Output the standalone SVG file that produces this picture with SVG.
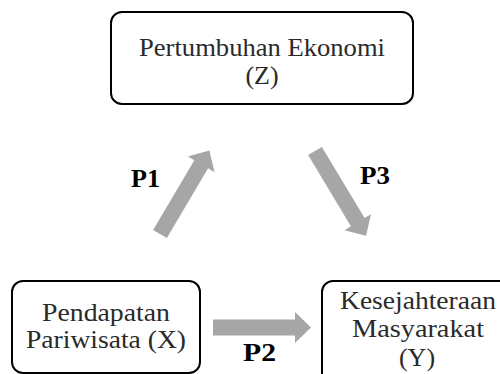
<svg xmlns="http://www.w3.org/2000/svg" width="500" height="374" viewBox="0 0 500 374">
<style>
.box{fill:#fff;stroke:#000;stroke-width:2}
.t{font-family:'Liberation Serif','Times New Roman','DejaVu Serif',serif;font-size:26px;fill:#2a2a2a;text-anchor:middle}
.p{font-family:'Liberation Serif','Times New Roman','DejaVu Serif',serif;font-size:25px;font-weight:bold;fill:#000}
.arr{fill:#a6a6a6}
</style>
<rect width="500" height="374" fill="#fff"/>
<g id="node-z">
<rect class="box" x="111" y="12" width="302" height="92" rx="11"/>
<text class="t" x="262" y="56" textLength="246" lengthAdjust="spacingAndGlyphs">Pertumbuhan Ekonomi</text>
<text class="t" x="262" y="84">(Z)</text>
</g>
<g id="node-x">
<rect class="box" x="12" y="281" width="188" height="92" rx="11"/>
<text class="t" x="106" y="321" textLength="128" lengthAdjust="spacingAndGlyphs">Pendapatan</text>
<text class="t" x="106" y="348" textLength="160" lengthAdjust="spacingAndGlyphs">Pariwisata (X)</text>
</g>
<g id="node-y">
<rect class="box" x="322" y="281" width="193" height="110" rx="11"/>
<text class="t" x="418" y="309" textLength="156" lengthAdjust="spacingAndGlyphs">Kesejahteraan</text>
<text class="t" x="418" y="337" textLength="132" lengthAdjust="spacingAndGlyphs">Masyarakat</text>
<text class="t" x="417" y="366">(Y)</text>
</g>
<g id="connectors">
<polygon class="arr" transform="translate(160,234) rotate(-59.4)" points="0,-8 81,-8 81,-15.5 97,0 81,15.5 81,8 0,8"/>
<polygon class="arr" transform="translate(315,151) rotate(59)" points="0,-8 83,-8 83,-15.5 99,0 83,15.5 83,8 0,8"/>
<polygon class="arr" transform="translate(213,327.5)" points="0,-8 82,-8 82,-15.5 98,0 82,15.5 82,8 0,8"/>
<text class="p" x="131" y="187" textLength="29" lengthAdjust="spacingAndGlyphs">P1</text>
<text class="p" x="360" y="184" textLength="30" lengthAdjust="spacingAndGlyphs">P3</text>
<text class="p" x="243" y="361" textLength="33" lengthAdjust="spacingAndGlyphs">P2</text>
</g>
</svg>
